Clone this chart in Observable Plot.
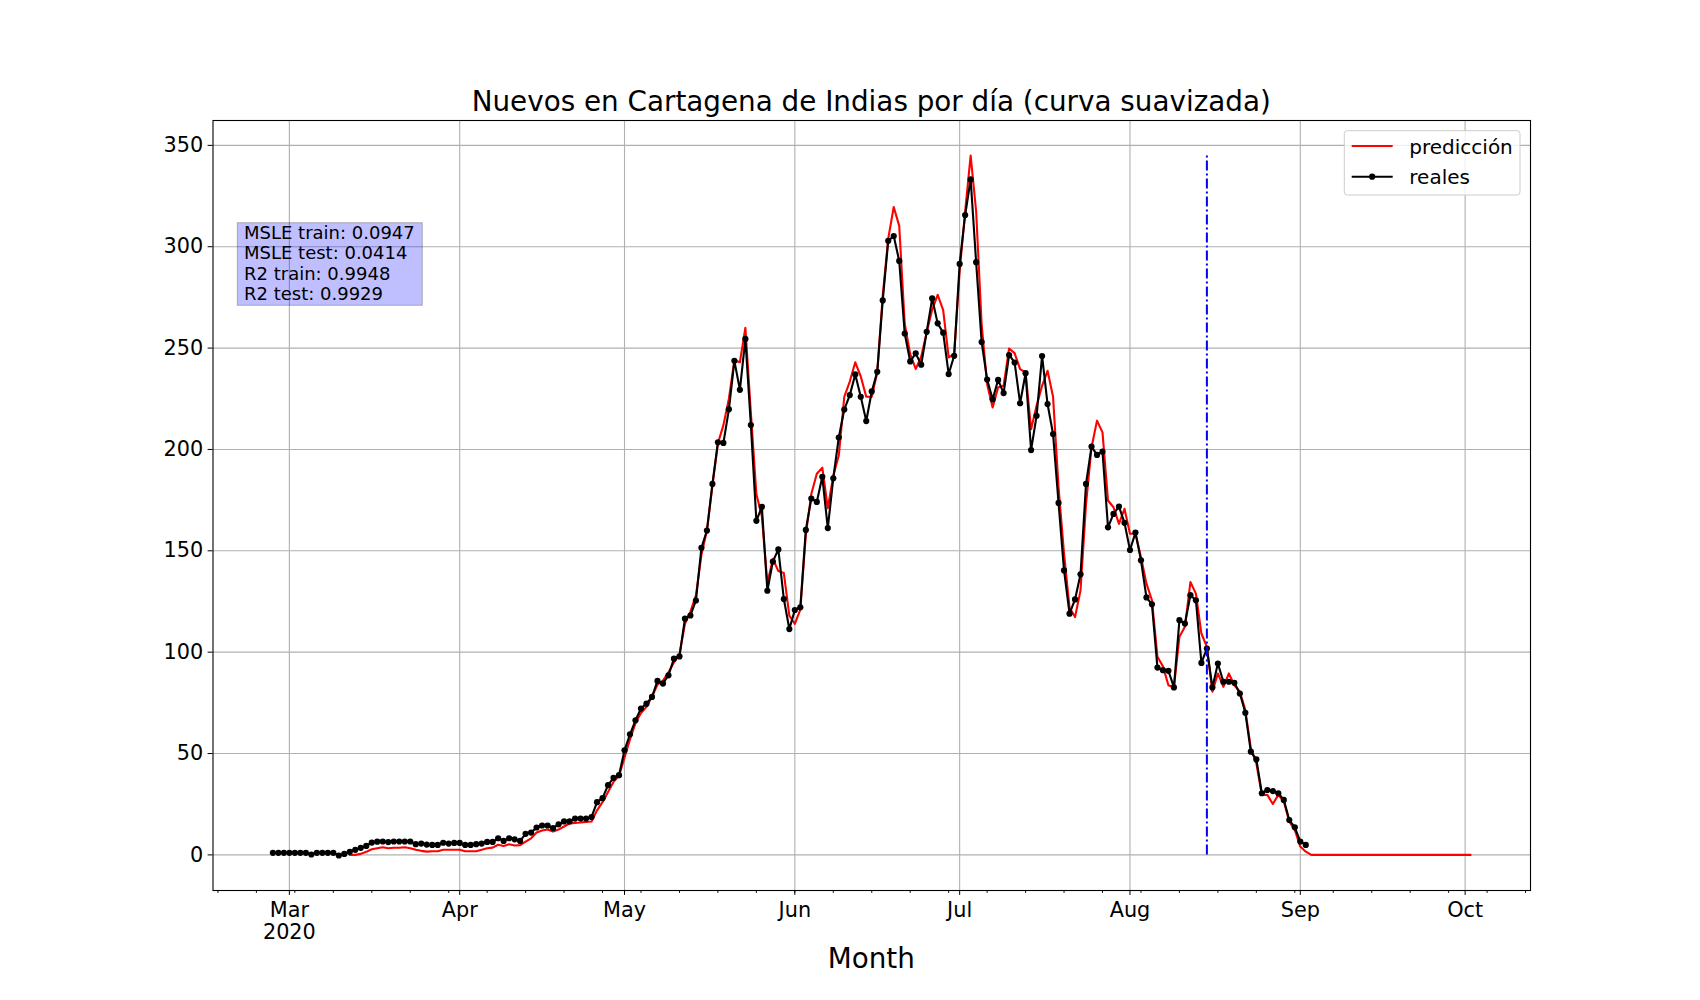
<!DOCTYPE html>
<html>
<head>
<meta charset="utf-8">
<script src="https://cdn.jsdelivr.net/npm/d3@7"></script>
<script src="https://cdn.jsdelivr.net/npm/@observablehq/plot@0.6"></script>
<style>
  html, body { margin: 0; padding: 0; background: white; }
  svg { display: block; }
</style>
</head>
<body>
<script>
// ---- data ----
const titleText = "Nuevos en Cartagena de Indias por día (curva suavizada)";
const xLabel = "Month";
const realesStart = "2020-02-27";
const reales = [
  1,1,1,1,1,1,1,0.2,1,1,1,1,
  -0.3,0.5,1.5,2.5,3.5,4.4,6.1,6.5,6.6,6.3,6.6,6.6,6.6,6.6,
  5.3,5.6,5.1,4.9,4.9,6.0,5.6,5.9,5.9,4.9,4.9,5.3,5.6,6.4,6.4,
  8.2,6.9,8.2,7.7,6.9,10.4,11,13.5,14.5,14.5,13.2,15.1,16.5,16.5,
  17.9,17.9,17.9,18.7,26,28,34.4,38,39.3,51.6,59.5,66.4,72.2,74.6,77.9,85.8,84.5,88.6,96.8,97.9,
  116.5,118.1,125.5,151.5,160,183,203.5,203.2,219.8,243.7,229.4,254.5,212,164.8,171.7,130.3,144.7,150.7,126.2,111.4,
  120.8,122.1,160.3,175.8,174.1,186.5,161.2,185.8,205.9,219.7,226.8,237,226,214,228.6,238.3,273.5,302.9,305.3,293,
  257.2,243.4,247.4,241.8,258,274.5,262.2,257.6,237.2,246.2,291.5,315.6,333.2,292.4,253,234.5,224.7,234.3,227.8,246.6,
  242.9,222.8,237.6,199.7,216.6,246.1,222.4,207.6,173.6,140.3,119,126,138.4,183,201.4,197.3,198.9,161.6,168.2,171.8,
  163.8,150.4,159,145.3,127,123.6,92.4,91.1,90.8,82.6,115.8,114.1,128.1,125.6,94.7,101.8,82.6,94.4,85.4,85.4,
  84.9,79.6,70.1,50.9,47.1,30.4,32,31.5,30.4,27.1,17.2,13.6,6.6,4.9
];
const prediccionStart = "2020-03-12";
const prediccion = [
  0,0,0.5,1.5,2.8,3.3,3.8,3.3,3.5,3.5,3.8,3.3,2.5,2,1.6,1.8,1.8,2.5,2.5,2.5,
  2.5,1.8,1.8,1.8,2.5,3.3,3.6,5,4.4,5.3,4.6,4.8,6.5,8.2,11,12,12.5,11.5,12.5,14,
  15.5,15.8,16,16.3,16.5,22,26,31,36,39,48,57,65,70,73,78,84,86,90,95,
  99,114,120,128,148,160,182,203,212,225,244,243,260,218,178,167,134,146,140,139,
  118,114,121,158,178,188,191,171,187,197,226,233.5,243,236,226,226,238,276,304,319.6,
  310.3,262,247,239.7,245.7,257.7,269,276.3,268.7,245.4,247,288,317.5,345,317.5,261.7,232.2,220.7,230.6,231.4,
  249.8,247.5,239.6,238,210,221.5,231.4,238.8,226,181.3,148.5,122,117.3,130.5,173,201,214.2,208.4,174.8,171.5,
  163.3,170.7,158.4,158.4,147,133.8,125.6,97.7,93,83.7,82.6,107.6,112.5,134.6,128.9,109.2,102.6,80.5,89.5,82.9,
  89.5,83.7,80.5,71.4,52.5,45.2,29.6,29.6,25.1,29.6,26.3,16.4,12.3,4.1,1.6,
  0,0,0,0,0,0,0,0,0,0,0,0,0,0,0,0,0,0,0,0,0,0,0,0,0,0,0,0,0,0
];
const splitDate = "2020-08-15";
const yTicks = [0, 50, 100, 150, 200, 250, 300, 350];
const monthTicks = ["2020-03-01","2020-04-01","2020-05-01","2020-06-01","2020-07-01","2020-08-01","2020-09-01","2020-10-01"];
const monthLabels = ["Mar\n2020","Apr","May","Jun","Jul","Aug","Sep","Oct"];
const metricsLines = ["MSLE train: 0.0947", "MSLE test: 0.0414", "R2 train: 0.9948", "R2 test: 0.9929"];
const legendLabels = ["predicción", "reales"];

// ---- build tables ----
const parse = s => new Date(s + "T00:00:00Z");
const rStart = parse(realesStart), pStart = parse(prediccionStart);
const realData = reales.map((v, i) => ({date: d3.utcDay.offset(rStart, i), value: v}));
const predData = prediccion.map((v, i) => ({date: d3.utcDay.offset(pStart, i), value: v}));
const monthDates = monthTicks.map(parse);
const labelByTime = new Map(monthDates.map((d, i) => [+d, monthLabels[i]]));

// matplotlib-like 5% margins
const allDates = realData.concat(predData).map(d => +d.date);
const xMin = d3.min(allDates), xMax = d3.max(allDates);
const xPad = (xMax - xMin) * 0.05;
const xDomain = [new Date(xMin - xPad), new Date(xMax + xPad)];
const allVals = reales.concat(prediccion);
const yMin = Math.min(0, d3.min(allVals)), yMax = d3.max(allVals);
const yPad = (yMax - yMin) * 0.05;
const yDomain = [yMin - yPad, yMax + yPad];
const minorTicks = d3.utcMonday.range(xDomain[0], xDomain[1]);

const W = 1700, H = 1000;
const mL = 212.5, mR = 170, mT = 120, mB = 110;
const font = "DejaVu Sans";

const chart = Plot.plot({
  width: W, height: H,
  marginLeft: mL, marginRight: mR, marginTop: mT, marginBottom: mB,
  style: {fontFamily: font, fontSize: "20.8px", background: "white", color: "black", overflow: "visible"},
  x: {type: "utc", domain: xDomain},
  y: {domain: yDomain},
  marks: [
    Plot.gridX(monthDates, {stroke: "#b0b0b0", strokeOpacity: 1, strokeWidth: 1.1}),
    Plot.gridY(yTicks, {stroke: "#b0b0b0", strokeOpacity: 1, strokeWidth: 1.1}),
    Plot.line(predData, {x: "date", y: "value", stroke: "red", strokeWidth: 2.1}),
    Plot.line(realData, {x: "date", y: "value", stroke: "black", strokeWidth: 2.1}),
    Plot.dot(realData, {x: "date", y: "value", r: 3.1, fill: "black", stroke: "none"}),
    Plot.ruleX([parse(splitDate)], {x: d => d, y1: 0, y2: yMax, stroke: "blue", strokeWidth: 2, strokeDasharray: "10,3,2,3"}),
    Plot.frame({stroke: "black", strokeWidth: 1.1}),
    Plot.axisY({ticks: yTicks, tickSize: 4.9, tickPadding: 4.9, fontSize: 20.8, label: null}),
    Plot.axisX({ticks: minorTicks, tickSize: 2.8, tickFormat: () => "", label: null}),
    Plot.axisX({ticks: monthDates, tickSize: 4.9, tickPadding: 4.9, fontSize: 20.8, lineHeight: 1.1,
      tickFormat: d => labelByTime.get(+d) ?? "", label: null})
  ]
});
document.body.appendChild(chart);

// ---- annotations: title, x label, metrics box, legend ----
const svg = d3.select(chart);
const cx = mL + (W - mL - mR) / 2;
svg.append("text").attr("x", cx).attr("y", 110.7).attr("text-anchor", "middle")
  .attr("font-family", font).attr("font-size", 27.8).attr("fill", "black").text(titleText);
svg.append("text").attr("x", cx).attr("y", 968).attr("text-anchor", "middle")
  .attr("font-family", font).attr("font-size", 27.8).attr("fill", "black").text(xLabel);

const box = svg.append("g").attr("text-anchor", "start");
box.append("rect").attr("x", 237.3).attr("y", 222.7).attr("width", 185).attr("height", 82.6)
  .attr("fill", "blue").attr("fill-opacity", 0.25).attr("stroke", "black").attr("stroke-opacity", 0.25);
metricsLines.forEach((t, i) => {
  box.append("text").attr("x", 244).attr("y", 238.5 + i * 20.6).attr("text-anchor", "start")
    .attr("font-family", font).attr("font-size", 18).attr("fill", "black").text(t);
});

const lg = svg.append("g").attr("text-anchor", "start");
lg.append("rect").attr("x", 1344.3).attr("y", 130.7).attr("width", 175.7).attr("height", 64.3).attr("rx", 3)
  .attr("fill", "white").attr("fill-opacity", 0.8).attr("stroke", "#cccccc");
lg.append("line").attr("x1", 1351.7).attr("x2", 1392.7).attr("y1", 146).attr("y2", 146)
  .attr("stroke", "red").attr("stroke-width", 2.1);
lg.append("line").attr("x1", 1351.7).attr("x2", 1392.7).attr("y1", 176.7).attr("y2", 176.7)
  .attr("stroke", "black").attr("stroke-width", 2.1);
lg.append("circle").attr("cx", 1372.2).attr("cy", 176.7).attr("r", 3.1).attr("fill", "black");
lg.append("text").attr("x", 1409.3).attr("y", 153.5).attr("text-anchor", "start").attr("font-family", font).attr("font-size", 20)
  .attr("fill", "black").text(legendLabels[0]);
lg.append("text").attr("x", 1409.3).attr("y", 184).attr("text-anchor", "start").attr("font-family", font).attr("font-size", 20)
  .attr("fill", "black").text(legendLabels[1]);
</script>
</body>
</html>
